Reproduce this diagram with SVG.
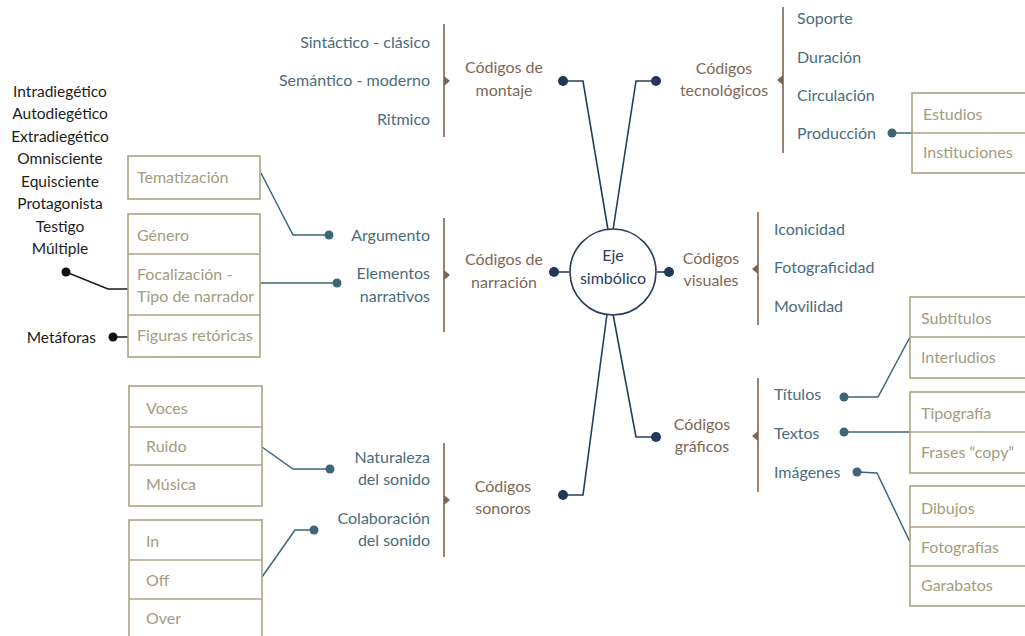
<svg xmlns="http://www.w3.org/2000/svg" width="1025" height="636" viewBox="0 0 1025 636">
  <style>
    text { font-family: Lato, "Liberation Sans", sans-serif; font-size: 16px; }
    .teal { fill: #4a6c7c; }
    .brown { fill: #7e6857; }
    .navy { fill: #2a3d5c; }
    .olive { fill: #a39c7e; }
    .black { fill: #1c1c1c; font-size: 15.5px; }
    .end { text-anchor: end; }
    .mid { text-anchor: middle; }
    .box { fill: none; stroke: #aba384; stroke-width: 1.6; }
    .div { stroke: #aba384; stroke-width: 1.6; }
    .bracket { stroke: #7d6553; stroke-width: 1.6; fill: none; }
    .tip { fill: #7d6553; }
    .navyline { stroke: #2a3c58; stroke-width: 1.6; fill: none; }
    .tealline { stroke: #3e6677; stroke-width: 1.5; fill: none; }
    .blackline { stroke: #1a1a1a; stroke-width: 1.5; fill: none; }
    .dnavy { fill: #22385a; }
    .dteal { fill: #3e6677; }
    .dblack { fill: #111; }
  </style>

  <!-- connectors -->
  <g id="connectors">
    <!-- spokes from the centre -->
    <polyline class="navyline" points="563,81 583,81 608,230"/>
    <polyline class="navyline" points="656,81 636,81 613,230"/>
    <polyline class="navyline" points="563,495 583,495 607,314"/>
    <polyline class="navyline" points="656,437 636,437 613,314"/>
    <line class="navyline" x1="554" y1="272" x2="569" y2="272"/>
    <line class="navyline" x1="657" y1="272" x2="669" y2="272"/>
    <circle class="dnavy" cx="563" cy="81" r="5"/>
    <circle class="dnavy" cx="656" cy="81" r="5"/>
    <circle class="dnavy" cx="563" cy="495" r="5"/>
    <circle class="dnavy" cx="656" cy="437" r="5"/>
    <circle class="dnavy" cx="554" cy="272" r="5"/>
    <circle class="dnavy" cx="669" cy="272" r="5"/>

    <!-- brackets with arrow tips -->
    <line class="bracket" x1="444" y1="24" x2="444" y2="137"/>
    <polygon class="tip" points="444,76 450,81 444,86"/>
    <line class="bracket" x1="444" y1="218" x2="444" y2="332"/>
    <polygon class="tip" points="444,270 450,275 444,280"/>
    <line class="bracket" x1="444" y1="443" x2="444" y2="557"/>
    <polygon class="tip" points="444,495 450,500 444,505"/>
    <line class="bracket" x1="783" y1="7" x2="783" y2="153"/>
    <polygon class="tip" points="783,75 777,80 783,85"/>
    <line class="bracket" x1="758" y1="212" x2="758" y2="325"/>
    <polygon class="tip" points="758,264 752,269 758,274"/>
    <line class="bracket" x1="758" y1="378" x2="758" y2="492"/>
    <polygon class="tip" points="758,431 752,436 758,441"/>

    <!-- teal leaders -->
    <polyline class="tealline" points="261,173 293,235 329,235"/>
    <circle class="dteal" cx="329" cy="235" r="4.5"/>
    <line class="tealline" x1="261" y1="283" x2="337" y2="283"/>
    <circle class="dteal" cx="337" cy="283" r="4.5"/>
    <polyline class="tealline" points="262,447 293,469 330,469"/>
    <circle class="dteal" cx="330" cy="469" r="4.5"/>
    <polyline class="tealline" points="262,577 295,530 314,530"/>
    <circle class="dteal" cx="314" cy="530" r="4.5"/>
    <line class="tealline" x1="892" y1="133" x2="912" y2="133"/>
    <circle class="dteal" cx="892" cy="133" r="4.5"/>
    <polyline class="tealline" points="844,397 878,397 910,337"/>
    <circle class="dteal" cx="844" cy="397" r="4.5"/>
    <line class="tealline" x1="844" y1="432" x2="910" y2="432"/>
    <circle class="dteal" cx="844" cy="432" r="4.5"/>
    <polyline class="tealline" points="857,472 877,473 910,542"/>
    <circle class="dteal" cx="857" cy="472" r="4.5"/>

    <!-- black leaders -->
    <polyline class="blackline" points="66,272 108,289 128,289"/>
    <circle class="dblack" cx="66" cy="272" r="4.5"/>
    <line class="blackline" x1="113" y1="337" x2="128" y2="337"/>
    <circle class="dblack" cx="113" cy="337" r="4.5"/>
  </g>

  <!-- centre -->
  <g id="eje">
    <circle cx="613" cy="272" r="43" fill="#fff" stroke="#2a3c58" stroke-width="1.6"/>
    <text class="navy mid" x="613" y="261">Eje</text>
    <text class="navy mid" x="613" y="284">simbólico</text>
  </g>

  <!-- Códigos de montaje -->
  <g id="montaje">
    <text class="brown mid" x="504" y="73">Códigos de</text>
    <text class="brown mid" x="504" y="96">montaje</text>
    <text class="teal end" x="430" y="48">Sintáctico - clásico</text>
    <text class="teal end" x="430" y="86">Semántico - moderno</text>
    <text class="teal end" x="430" y="125">Ritmico</text>
  </g>

  <!-- Códigos de narración -->
  <g id="narracion">
    <text class="brown mid" x="504" y="265">Códigos de</text>
    <text class="brown mid" x="504" y="288">narración</text>
    <text class="teal end" x="430" y="241">Argumento</text>
    <text class="teal end" x="430" y="279">Elementos</text>
    <text class="teal end" x="430" y="302">narrativos</text>
  </g>

  <g id="tematizacion">
    <rect class="box" x="128" y="156" width="132" height="43"/>
    <text class="olive" x="137" y="183">Tematización</text>
  </g>

  <g id="elementos-box">
    <rect class="box" x="128" y="214" width="132" height="143"/>
    <line class="div" x1="128" y1="254" x2="260" y2="254"/>
    <line class="div" x1="128" y1="315" x2="260" y2="315"/>
    <text class="olive" x="137" y="241">Género</text>
    <text class="olive" x="137" y="280">Focalización -</text>
    <text class="olive" x="137" y="302">Tipo de narrador</text>
    <text class="olive" x="137" y="341">Figuras retóricas</text>
  </g>

  <g id="narradores">
    <text class="black mid" x="60" y="97">Intradiegético</text>
    <text class="black mid" x="60" y="119">Autodiegético</text>
    <text class="black mid" x="60" y="142">Extradiegético</text>
    <text class="black mid" x="60" y="164">Omnisciente</text>
    <text class="black mid" x="60" y="187">Equisciente</text>
    <text class="black mid" x="60" y="209">Protagonista</text>
    <text class="black mid" x="60" y="232">Testigo</text>
    <text class="black mid" x="60" y="254">Múltiple</text>
  </g>

  <g id="metaforas">
    <text class="black end" x="96" y="343">Metáforas</text>
  </g>

  <!-- Códigos sonoros -->
  <g id="sonoros">
    <text class="brown mid" x="503" y="492">Códigos</text>
    <text class="brown mid" x="503" y="514">sonoros</text>
    <text class="teal end" x="430" y="463">Naturaleza</text>
    <text class="teal end" x="430" y="485">del sonido</text>
    <text class="teal end" x="430" y="524">Colaboración</text>
    <text class="teal end" x="430" y="546">del sonido</text>
  </g>

  <g id="naturaleza-box">
    <rect class="box" x="129" y="386" width="133" height="120"/>
    <line class="div" x1="129" y1="427" x2="262" y2="427"/>
    <line class="div" x1="129" y1="465" x2="262" y2="465"/>
    <text class="olive" x="146" y="414">Voces</text>
    <text class="olive" x="146" y="452">Ruido</text>
    <text class="olive" x="146" y="490">Música</text>
  </g>

  <g id="colaboracion-box">
    <rect class="box" x="129" y="520" width="133" height="130"/>
    <line class="div" x1="129" y1="560" x2="262" y2="560"/>
    <line class="div" x1="129" y1="599" x2="262" y2="599"/>
    <text class="olive" x="146" y="547">In</text>
    <text class="olive" x="146" y="586">Off</text>
    <text class="olive" x="146" y="624">Over</text>
  </g>

  <!-- Códigos tecnológicos -->
  <g id="tecnologicos">
    <text class="brown mid" x="724" y="74">Códigos</text>
    <text class="brown mid" x="724" y="96">tecnológicos</text>
    <text class="teal" x="797" y="24">Soporte</text>
    <text class="teal" x="797" y="63">Duración</text>
    <text class="teal" x="797" y="101">Circulación</text>
    <text class="teal" x="797" y="139">Producción</text>
  </g>

  <g id="produccion-box">
    <rect class="box" x="912" y="93" width="130" height="80"/>
    <line class="div" x1="912" y1="133" x2="1042" y2="133"/>
    <text class="olive" x="923" y="120">Estudios</text>
    <text class="olive" x="923" y="158">Instituciones</text>
  </g>

  <!-- Códigos visuales -->
  <g id="visuales">
    <text class="brown mid" x="711" y="264">Códigos</text>
    <text class="brown mid" x="711" y="286">visuales</text>
    <text class="teal" x="774" y="235">Iconicidad</text>
    <text class="teal" x="774" y="273">Fotograficidad</text>
    <text class="teal" x="774" y="312">Movilidad</text>
  </g>

  <!-- Códigos gráficos -->
  <g id="graficos">
    <text class="brown mid" x="702" y="430">Códigos</text>
    <text class="brown mid" x="702" y="452">gráficos</text>
    <text class="teal" x="774" y="400">Títulos</text>
    <text class="teal" x="774" y="439">Textos</text>
    <text class="teal" x="774" y="478">Imágenes</text>
  </g>

  <g id="titulos-box">
    <rect class="box" x="910" y="297" width="130" height="81"/>
    <line class="div" x1="910" y1="337" x2="1040" y2="337"/>
    <text class="olive" x="921" y="324">Subtítulos</text>
    <text class="olive" x="921" y="363">Interludios</text>
  </g>

  <g id="textos-box">
    <rect class="box" x="910" y="392" width="130" height="81"/>
    <line class="div" x1="910" y1="432" x2="1040" y2="432"/>
    <text class="olive" x="921" y="419">Tipografía</text>
    <text class="olive" x="921" y="458">Frases “copy”</text>
  </g>

  <g id="imagenes-box">
    <rect class="box" x="910" y="486" width="130" height="120"/>
    <line class="div" x1="910" y1="527" x2="1040" y2="527"/>
    <line class="div" x1="910" y1="566" x2="1040" y2="566"/>
    <text class="olive" x="921" y="514">Dibujos</text>
    <text class="olive" x="921" y="553">Fotografías</text>
    <text class="olive" x="921" y="591">Garabatos</text>
  </g>
</svg>
